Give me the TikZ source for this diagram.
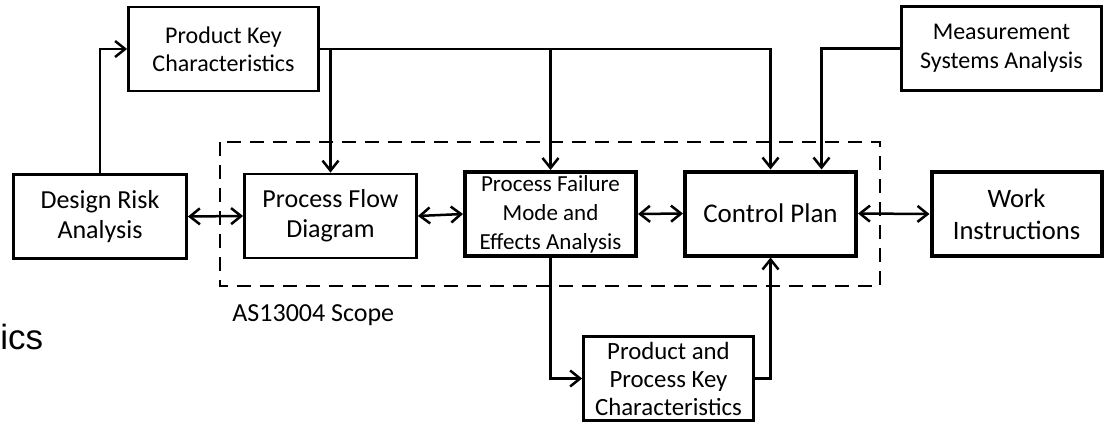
\documentclass[tikz,border=0pt]{standalone}
\usepackage{fontspec}
\setmainfont{Carlito}
\newfontfamily\arialfont{Liberation Sans}
\usetikzlibrary{arrows.meta}
\tikzset{
  block/.style={draw, line width=1.4pt, align=center, inner sep=0pt, fill=white},
  heavyblock/.style={block, line width=2pt},
  feed/.style={line width=1.25pt, -{Straight Barb[length=5pt,width=8pt]}},
  trade/.style={line width=1.25pt, {Straight Barb[length=5pt,width=8pt]}-{Straight Barb[length=5pt,width=8pt]}},
  scopeframe/.style={line width=1.2pt, dash pattern=on 7pt off 4.5pt},
}
\newcommand{\fs}[2]{\fontsize{#1}{#2}\selectfont}
\newcommand{\stagebox}[5] {\node at (#1) (#2) [#3, minimum width=#4pt, minimum height=42pt] {#5};}
\newcommand{\tradeline}[2] {\draw [trade] (#1.east) -- (#2.west);}

\begin{document}
\begin{tikzpicture}[x=0.5pt, y=-0.5pt]
\useasboundingbox (0,0) rectangle (1115,428);

% scope of the standard
\draw [scopeframe] (220,142) rectangle (880,286);
\node (scopelbl) [anchor=base west, inner sep=0pt, font=\fs{13}{15}] at (232,321) {AS13004 Scope};

\stagebox {223.5,49} {pkc} {block, font=\fs{12}{14}} {95} {Product Key\\Characteristics}
\stagebox {1001.5,48.5} {msa} {block, font=\fs{12}{14.5}} {100} {Measurement\\Systems Analysis}
\stagebox {100,216.5} {dra} {block, font=\fs{13}{15}} {86.5} {Design Risk\\Analysis}
\stagebox {330.5,216} {pfd} {block, font=\fs{13}{15}} {86} {Process Flow\\Diagram}
\stagebox {550.5,214} {pfmea} {heavyblock, font=\fs{11.5}{14.5}} {85.5} {Process Failure\\Mode and\\Effects Analysis}
\stagebox {770.5,213.5} {cp} {heavyblock, font=\fs{13.5}{16}} {85.5} {Control Plan}
\stagebox {1016.5,214} {wi} {heavyblock, font=\fs{13.3}{16}} {85} {Work\\Instructions}
\stagebox {668.5,378.5} {ppkc} {block, font=\fs{12.4}{14}} {85} {Product and\\Process Key\\Characteristics}

% feeds from the key characteristics
\draw [feed] (dra.north) |- (pkc.west);
\draw [feed] (pkc.east) -| (pfd.north);
\draw [feed] (pkc.east) -| (pfmea.north);
\draw [feed] (pkc.east) -| (cp.north);
\draw [feed] (msa.west) -| ([xshift=25.5pt]cp.north);
\draw [feed] (pfmea.south) |- (ppkc.west);
\draw [feed] (ppkc.east) -| (cp.south);

\tradeline{dra}{pfd}
\tradeline{pfd}{pfmea}
\tradeline{pfmea}{cp}
\tradeline{cp}{wi}

\node (tail) [anchor=base west, inner sep=0pt, font=\arialfont\fs{17.5}{19}] at (0,349) {ics};
\end{tikzpicture}
\end{document}
